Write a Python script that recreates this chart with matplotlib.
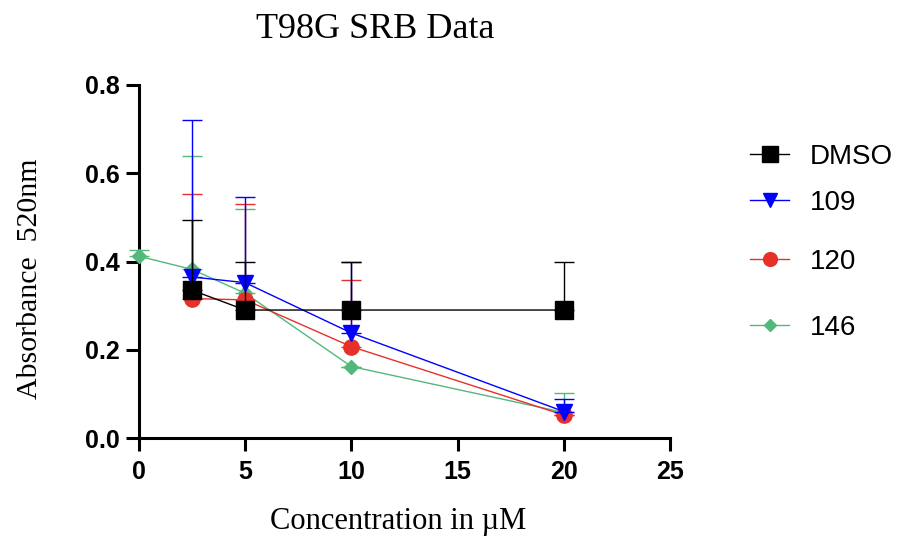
import numpy as np
import matplotlib
matplotlib.use("Agg")
import matplotlib.pyplot as plt
from matplotlib.lines import Line2D

# data
conc_dmso = [2.5, 5, 10, 20]
dmso = [0.335, 0.29, 0.29, 0.29]
dmso_err = [0.16, 0.11, 0.11, 0.11]

conc_109 = [2.5, 5, 10, 20]
c109 = [0.365, 0.352, 0.238, 0.060]
c109_err = [0.355, 0.195, 0.162, 0.028]

conc_120 = [2.5, 5, 10, 20]
c120 = [0.316, 0.313, 0.207, 0.052]
c120_err = [0.236, 0.217, 0.151, 0.0]

conc_146 = [0, 2.5, 5, 10, 20]
c146 = [0.412, 0.382, 0.328, 0.162, 0.058]
c146_err = [0.014, 0.258, 0.191, 0.0, 0.045]

labels = ["DMSO", "109", "120", "146"]
colors = ["black", "#0000ff", "#e8302a", "#52b87c"]
markers = ["s", "v", "o", "D"]
msizes = [13, 11, 11, 7]

series = [(conc_dmso, dmso, dmso_err), (conc_109, c109, c109_err),
          (conc_120, c120, c120_err), (conc_146, c146, c146_err)]

fig = plt.figure(figsize=(9, 5.42), dpi=100)
ax = fig.add_axes([139/900, 1-438/542, (670-139)/900, (438-85)/542])

for i in range(3, -1, -1):
    x, y, e = series[i]
    ax.errorbar(x, y, yerr=[np.zeros(len(e)), e], color=colors[i], marker=markers[i],
                markersize=msizes[i], linewidth=1.0, elinewidth=1.0, capsize=7,
                capthick=1.0, zorder=3+(3-i), clip_on=False)

ax.set_xlim(0, 25)
ax.set_ylim(0, 0.8)
ax.set_xticks([0, 5, 10, 15, 20, 25])
ax.set_yticks([0.0, 0.2, 0.4, 0.6, 0.8])
ax.set_yticklabels(["0.0", "0.2", "0.4", "0.6", "0.8"])
for s in ["top", "right"]:
    ax.spines[s].set_visible(False)
for s in ["left", "bottom"]:
    ax.spines[s].set_linewidth(2.2)
ax.tick_params(width=2.2, length=9.5, direction="out", labelsize=18, pad=4)
ax.tick_params(axis="x", pad=6)
for lab in ax.get_xticklabels() + ax.get_yticklabels():
    lab.set_fontfamily("Liberation Sans")
    lab.set_fontweight("bold")

fig.text(375/900, 1-30/542, "T98G SRB Data", family="Liberation Serif", fontsize=26,
         ha="center", va="center")
fig.text(398/900, 1-522/542, "Concentration in \u00b5M", family="Liberation Serif",
         fontsize=22, ha="center", va="center")
fig.text(30/900, 1-279/542, "Absorbance  520nm", family="Liberation Serif",
         fontsize=21.5, ha="center", va="center", rotation=90)

# legend entries, placed one by one (uneven spacing in reference)
leg_y = [157, 203, 262, 328]
for i in range(4):
    h = Line2D([], [], color=colors[i], marker=markers[i], markersize=msizes[i]*0.9,
               linewidth=1.0)
    lg = fig.legend([h], [labels[i]], loc="center left",
                    bbox_to_anchor=(731/900, 1-leg_y[i]/542), frameon=False,
                    handlelength=1.4, handletextpad=0.75, borderpad=0.2,
                    prop={"family": "Liberation Sans", "size": 20})

fig.savefig("out.png", dpi=100)
